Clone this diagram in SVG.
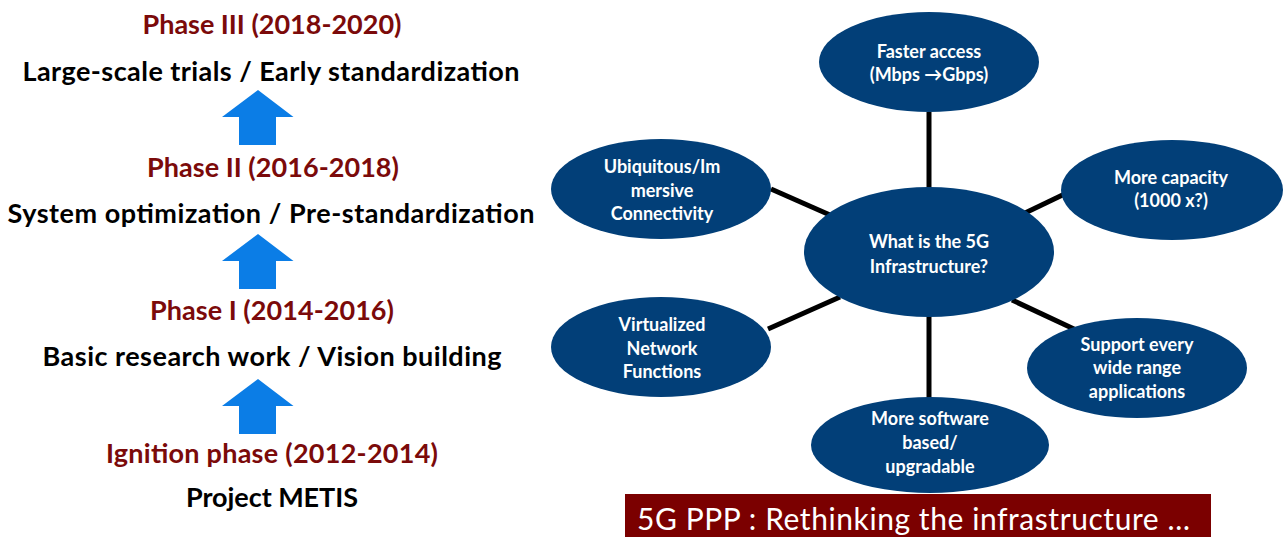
<svg xmlns="http://www.w3.org/2000/svg" width="1288" height="537" viewBox="0 0 1288 537">
  <defs>
    <style>
      .phase { font-family: Lato, "Liberation Sans", sans-serif; font-weight: bold; font-size: 27px; fill: #7b0a0a; text-anchor: middle; }
      .desc { font-family: Lato, "Liberation Sans", sans-serif; font-weight: bold; font-size: 27px; fill: #000000; text-anchor: middle; }
      .up { fill: #0b7de6; }
      .node ellipse { fill: #023f78; }
      .node text { font-family: Lato, "DejaVu Sans", sans-serif; font-weight: bold; font-size: 18px; fill: #ffffff; text-anchor: middle; }
      .link { stroke: #000000; stroke-width: 5; fill: none; }
      .banner-text { font-family: Lato, "Liberation Sans", sans-serif; font-size: 30px; fill: #ffffff; }
    </style>
    <path id="upArrow" d="M0,0 L35.5,27 L18,27 L18,55 L-19,55 L-19,27 L-36,27 Z"/>
  </defs>

  <!-- Timeline of phases -->
  <g id="timeline">
    <g id="phase3">
      <text class="phase" x="272" y="34" textLength="259">Phase III (2018-2020)</text>
      <text class="desc" x="271" y="81" textLength="497">Large-scale trials / Early standardization</text>
    </g>
    <use href="#upArrow" class="up" x="258" y="90"/>
    <g id="phase2">
      <text class="phase" x="273" y="177" textLength="252">Phase II (2016-2018)</text>
      <text class="desc" x="271" y="223" textLength="527">System optimization / Pre-standardization</text>
    </g>
    <use href="#upArrow" class="up" x="258" y="234"/>
    <g id="phase1">
      <text class="phase" x="272" y="320" textLength="244">Phase I (2014-2016)</text>
      <text class="desc" x="272" y="366" textLength="459">Basic research work / Vision building</text>
    </g>
    <use href="#upArrow" class="up" x="258" y="379"/>
    <g id="ignition">
      <text class="phase" x="272" y="463" textLength="332">Ignition phase (2012-2014)</text>
      <text class="desc" x="272" y="507" textLength="172">Project METIS</text>
    </g>
  </g>

  <!-- Spokes from the hub to each feature -->
  <g id="connectors">
    <line class="link" x1="929" y1="112" x2="929" y2="188"/>
    <line class="link" x1="929" y1="316" x2="929" y2="399"/>
    <line class="link" x1="771" y1="189" x2="830" y2="215"/>
    <line class="link" x1="1025" y1="213" x2="1075" y2="189"/>
    <line class="link" x1="768" y1="329" x2="840" y2="297"/>
    <line class="link" x1="1012" y1="300" x2="1074" y2="329"/>
  </g>

  <g id="node-faster" class="node">
    <ellipse cx="929" cy="62" rx="110" ry="50"/>
    <text x="929" y="58">Faster access</text>
    <text x="929" y="81">(Mbps →Gbps)</text>
  </g>
  <g id="node-ubiquitous" class="node">
    <ellipse cx="661" cy="189" rx="110" ry="50"/>
    <text x="662" y="173">Ubiquitous/Im</text>
    <text x="662" y="197">mersive</text>
    <text x="662" y="220">Connectivity</text>
  </g>
  <g id="node-capacity" class="node">
    <ellipse cx="1172" cy="190" rx="111" ry="50"/>
    <text x="1171" y="184">More capacity</text>
    <text x="1171" y="207">(1000 x?)</text>
  </g>
  <g id="node-hub" class="node">
    <ellipse cx="929" cy="252" rx="125" ry="65"/>
    <text x="929" y="248">What is the 5G</text>
    <text x="929" y="273">Infrastructure?</text>
  </g>
  <g id="node-virtualized" class="node">
    <ellipse cx="661" cy="347" rx="110" ry="50"/>
    <text x="662" y="331">Virtualized</text>
    <text x="662" y="355">Network</text>
    <text x="662" y="378">Functions</text>
  </g>
  <g id="node-support" class="node">
    <ellipse cx="1137" cy="368" rx="110" ry="50"/>
    <text x="1137" y="351">Support every</text>
    <text x="1137" y="374">wide range</text>
    <text x="1137" y="398">applications</text>
  </g>
  <g id="node-software" class="node">
    <ellipse cx="930" cy="445" rx="119" ry="48"/>
    <text x="930" y="425">More software</text>
    <text x="930" y="449">based/</text>
    <text x="930" y="473">upgradable</text>
  </g>

  <!-- Caption banner -->
  <g id="banner">
    <rect x="625" y="494" width="586" height="43" fill="#7b0000"/>
    <text class="banner-text" x="637" y="530" textLength="553">5G PPP : Rethinking the infrastructure …</text>
  </g>
</svg>
